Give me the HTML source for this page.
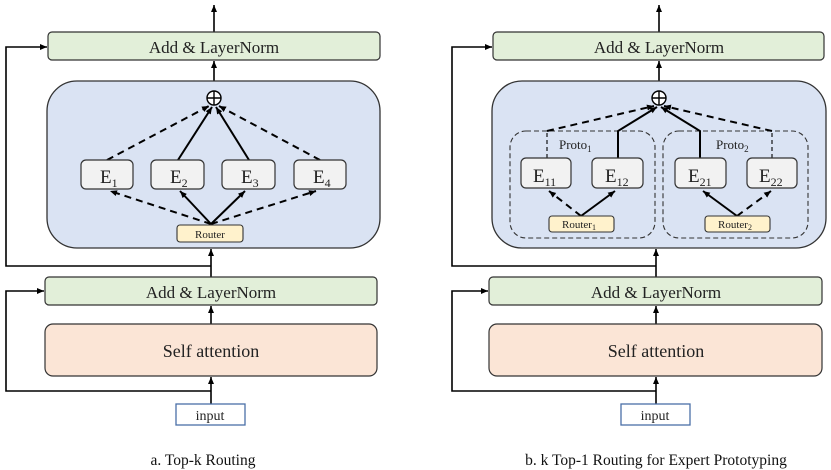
<!DOCTYPE html>
<html><head><meta charset="utf-8"><style>
html,body{margin:0;padding:0;background:#fff;}
svg{display:block;}
text{font-family:"Liberation Serif",serif;fill:#222;}
</style></head><body>
<svg width="831" height="470" viewBox="0 0 831 470" xmlns="http://www.w3.org/2000/svg">
<defs>
<marker id="a" markerWidth="8" markerHeight="8" refX="7" refY="4" orient="auto" markerUnits="userSpaceOnUse">
<path d="M0,1 L7,4 L0,7 Z" fill="#000"/></marker>
</defs>

<!-- ===== LEFT PANEL ===== -->
<g stroke="#000" stroke-width="1.6" fill="none">
<line x1="214" y1="32" x2="214" y2="5" marker-end="url(#a)"/>
<line x1="214" y1="81" x2="214" y2="61" marker-end="url(#a)"/>
<polyline points="211,266 6,266 6,47 47,47" marker-end="url(#a)"/>
<line x1="211" y1="277" x2="211" y2="249" marker-end="url(#a)"/>
<line x1="211" y1="324" x2="211" y2="306" marker-end="url(#a)"/>
<polyline points="211,391 6,391 6,291 44,291" marker-end="url(#a)"/>
<line x1="211" y1="404" x2="211" y2="377" marker-end="url(#a)"/>
</g>
<rect x="48" y="32" width="332" height="28" rx="4" fill="#e2efd9" stroke="#333" stroke-width="1.2"/>
<text x="214" y="53" font-size="17" text-anchor="middle">Add &amp; LayerNorm</text>
<rect x="47" y="81" width="333" height="167" rx="30" fill="#dae3f3" stroke="#333" stroke-width="1.3"/>
<rect x="45" y="277" width="332" height="28" rx="4" fill="#e2efd9" stroke="#333" stroke-width="1.2"/>
<text x="211" y="298" font-size="17" text-anchor="middle">Add &amp; LayerNorm</text>
<rect x="45" y="324" width="332" height="52" rx="8" fill="#fbe5d6" stroke="#333" stroke-width="1.2"/>
<text x="211" y="357" font-size="18" text-anchor="middle">Self attention</text>
<rect x="176" y="404" width="69" height="21" fill="#fff" stroke="#4a6fa8" stroke-width="1.3"/>
<text x="210" y="420" font-size="14" text-anchor="middle">input</text>
<text x="203" y="465" font-size="15.5" text-anchor="middle" style="fill:#111">a. Top-k Routing</text>

<!-- left inner -->
<g stroke="#000" stroke-width="2" fill="none">
<line x1="107" y1="160" x2="209" y2="106" stroke-dasharray="7,5" marker-end="url(#a)"/>
<line x1="178" y1="160" x2="212" y2="107" marker-end="url(#a)"/>
<line x1="249" y1="160" x2="216" y2="107" marker-end="url(#a)"/>
<line x1="320" y1="160" x2="219" y2="106" stroke-dasharray="7,5" marker-end="url(#a)"/>
<line x1="211" y1="224" x2="110" y2="191" stroke-dasharray="7,5" marker-end="url(#a)"/>
<line x1="211" y1="224" x2="180" y2="191" marker-end="url(#a)"/>
<line x1="211" y1="224" x2="245" y2="191" marker-end="url(#a)"/>
<line x1="211" y1="224" x2="316" y2="191" stroke-dasharray="7,5" marker-end="url(#a)"/>
</g>
<circle cx="214" cy="98" r="7" fill="#fff" stroke="#000" stroke-width="1.4"/>
<path d="M207,98 H221 M214,91 V105" stroke="#000" stroke-width="1.4"/>
<g fill="#f2f2f2" stroke="#333" stroke-width="1.2">
<rect x="81" y="160" width="52" height="29" rx="5"/>
<rect x="151" y="160" width="53" height="29" rx="5"/>
<rect x="222" y="160" width="53" height="29" rx="5"/>
<rect x="294" y="160" width="52" height="29" rx="5"/>
</g>
<text x="100" y="183" font-size="19">E<tspan font-size="12" dy="4">1</tspan></text>
<text x="170" y="183" font-size="19">E<tspan font-size="12" dy="4">2</tspan></text>
<text x="241" y="183" font-size="19">E<tspan font-size="12" dy="4">3</tspan></text>
<text x="313" y="183" font-size="19">E<tspan font-size="12" dy="4">4</tspan></text>
<rect x="177" y="225" width="66" height="17" rx="3" fill="#fff2cc" stroke="#333" stroke-width="1.1"/>
<text x="210" y="238" font-size="11" text-anchor="middle">Router</text>

<!-- ===== RIGHT PANEL ===== -->
<g stroke="#000" stroke-width="1.6" fill="none">
<line x1="659" y1="32" x2="659" y2="5" marker-end="url(#a)"/>
<line x1="659" y1="81" x2="659" y2="61" marker-end="url(#a)"/>
<polyline points="656,266 452,266 452,47 492,47" marker-end="url(#a)"/>
<line x1="656" y1="277" x2="656" y2="249" marker-end="url(#a)"/>
<line x1="656" y1="324" x2="656" y2="306" marker-end="url(#a)"/>
<polyline points="656,391 452,391 452,291 488,291" marker-end="url(#a)"/>
<line x1="656" y1="404" x2="656" y2="377" marker-end="url(#a)"/>
</g>
<rect x="493" y="32" width="331" height="28" rx="4" fill="#e2efd9" stroke="#333" stroke-width="1.2"/>
<text x="659" y="53" font-size="17" text-anchor="middle">Add &amp; LayerNorm</text>
<rect x="492" y="81" width="334" height="167" rx="30" fill="#dae3f3" stroke="#333" stroke-width="1.3"/>
<rect x="489" y="277" width="333" height="28" rx="4" fill="#e2efd9" stroke="#333" stroke-width="1.2"/>
<text x="656" y="298" font-size="17" text-anchor="middle">Add &amp; LayerNorm</text>
<rect x="489" y="324" width="333" height="52" rx="8" fill="#fbe5d6" stroke="#333" stroke-width="1.2"/>
<text x="656" y="357" font-size="18" text-anchor="middle">Self attention</text>
<rect x="621" y="404" width="69" height="21" fill="#fff" stroke="#4a6fa8" stroke-width="1.3"/>
<text x="655" y="420" font-size="14" text-anchor="middle">input</text>
<text x="656" y="465" font-size="15.5" text-anchor="middle" style="fill:#111">b. k Top-1 Routing for Expert Prototyping</text>

<!-- proto boxes -->
<rect x="510" y="131" width="145" height="107" rx="16" fill="none" stroke="#333" stroke-width="1.1" stroke-dasharray="5,3"/>
<rect x="663" y="131" width="145" height="107" rx="16" fill="none" stroke="#333" stroke-width="1.1" stroke-dasharray="5,3"/>
<text x="559" y="149" font-size="13">Proto<tspan font-size="9" dy="3">1</tspan></text>
<text x="716" y="149" font-size="13">Proto<tspan font-size="9" dy="3">2</tspan></text>

<g stroke="#000" fill="none">
<line x1="547" y1="158" x2="547" y2="131" stroke-width="1.1" stroke-dasharray="4,3"/>
<line x1="547" y1="131" x2="654" y2="106" stroke-width="2" stroke-dasharray="7,5" marker-end="url(#a)"/>
<polyline points="618,158 618,131 657,107" stroke-width="2" marker-end="url(#a)"/>
<polyline points="700,158 700,131 661,107" stroke-width="2" marker-end="url(#a)"/>
<line x1="772" y1="158" x2="772" y2="131" stroke-width="1.1" stroke-dasharray="4,3"/>
<line x1="772" y1="131" x2="664" y2="106" stroke-width="2" stroke-dasharray="7,5" marker-end="url(#a)"/>
<line x1="581" y1="216" x2="549" y2="191" stroke-width="2" stroke-dasharray="7,5" marker-end="url(#a)"/>
<line x1="581" y1="216" x2="615" y2="191" stroke-width="2" marker-end="url(#a)"/>
<line x1="737" y1="216" x2="703" y2="191" stroke-width="2" marker-end="url(#a)"/>
<line x1="737" y1="216" x2="771" y2="191" stroke-width="2" stroke-dasharray="7,5" marker-end="url(#a)"/>
</g>
<circle cx="659" cy="98" r="7" fill="#fff" stroke="#000" stroke-width="1.4"/>
<path d="M652,98 H666 M659,91 V105" stroke="#000" stroke-width="1.4"/>
<g fill="#f2f2f2" stroke="#333" stroke-width="1.2">
<rect x="521" y="158" width="50" height="30" rx="5"/>
<rect x="592" y="158" width="51" height="30" rx="5"/>
<rect x="675" y="158" width="51" height="30" rx="5"/>
<rect x="747" y="158" width="50" height="30" rx="5"/>
</g>
<text x="533" y="182" font-size="19">E<tspan font-size="12" dy="4">11</tspan></text>
<text x="605" y="182" font-size="19">E<tspan font-size="12" dy="4">12</tspan></text>
<text x="688" y="182" font-size="19">E<tspan font-size="12" dy="4">21</tspan></text>
<text x="759" y="182" font-size="19">E<tspan font-size="12" dy="4">22</tspan></text>
<rect x="549" y="216" width="65" height="16" rx="3" fill="#fff2cc" stroke="#333" stroke-width="1.1"/>
<text x="579" y="228" font-size="11" text-anchor="middle">Router<tspan font-size="8" dy="2">1</tspan></text>
<rect x="705" y="216" width="65" height="16" rx="3" fill="#fff2cc" stroke="#333" stroke-width="1.1"/>
<text x="735" y="228" font-size="11" text-anchor="middle">Router<tspan font-size="8" dy="2">2</tspan></text>
</svg>
</body></html>
